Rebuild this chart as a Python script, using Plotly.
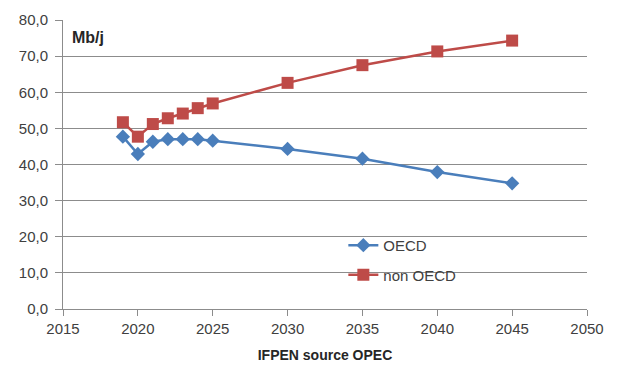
import plotly.graph_objects as go

years = [2019, 2020, 2021, 2022, 2023, 2024, 2025, 2030, 2035, 2040, 2045]
oecd = [47.7, 42.9, 46.3, 47.0, 47.0, 47.0, 46.6, 44.3, 41.6, 37.9, 34.8]
non_oecd = [51.7, 47.7, 51.2, 52.8, 54.1, 55.6, 56.9, 62.6, 67.5, 71.3, 74.3]

font_family = "Liberation Sans, Arial, sans-serif"
tick_color = "#404040"
grid_color = "#8c8c8c"

fig = go.Figure()
fig.add_trace(go.Scatter(
    x=years, y=oecd, name="OECD", mode="lines+markers", legendgroup="oecd",
    line=dict(color="#4A7EBB", width=2.5),
    marker=dict(symbol="diamond", size=11, color="#4A7EBB"),
))
fig.add_trace(go.Scatter(
    x=years, y=non_oecd, name="non OECD", mode="lines+markers", legendgroup="non",
    line=dict(color="#BE4B48", width=2.5),
    marker=dict(symbol="square", size=12, color="#BE4B48"),
))

fig.update_layout(
    width=618, height=365,
    margin=dict(l=63, r=31, t=20, b=56),
    paper_bgcolor="white", plot_bgcolor="white",
    separators=", ",
    font=dict(family=font_family, size=15, color=tick_color),
    showlegend=True,
    legend=dict(
        x=0.535, y=0.277, xanchor="left", yanchor="top",
        bgcolor="rgba(0,0,0,0)", font=dict(size=15, color=tick_color),
        tracegroupgap=7, itemwidth=30,
    ),
    xaxis=dict(
        range=[2015, 2050], dtick=5, tick0=2015, automargin=False,
        showgrid=False, showline=True, linecolor=grid_color, linewidth=1,
        ticks="outside", ticklen=6, tickcolor=grid_color,
        tickfont=dict(size=15, color=tick_color),
        title=dict(text="<b>IFPEN source OPEC</b>", font=dict(size=14, color="#262626"), standoff=14),
        zeroline=False,
    ),
    yaxis=dict(
        range=[0, 80], dtick=10, tickformat=".1f", automargin=False,
        showgrid=True, gridcolor=grid_color, gridwidth=1,
        showline=True, linecolor=grid_color, linewidth=1,
        ticks="outside", ticklen=7, tickcolor=grid_color,
        ticklabelstandoff=4,
        tickfont=dict(size=15, color=tick_color),
        zeroline=False,
    ),
    annotations=[dict(
        text="<b>Mb/j</b>", x=0.014, y=0.975, xref="paper", yref="paper",
        xanchor="left", yanchor="top", showarrow=False,
        font=dict(size=16, color="#262626"),
    )],
)

fig.write_html("out.html")
